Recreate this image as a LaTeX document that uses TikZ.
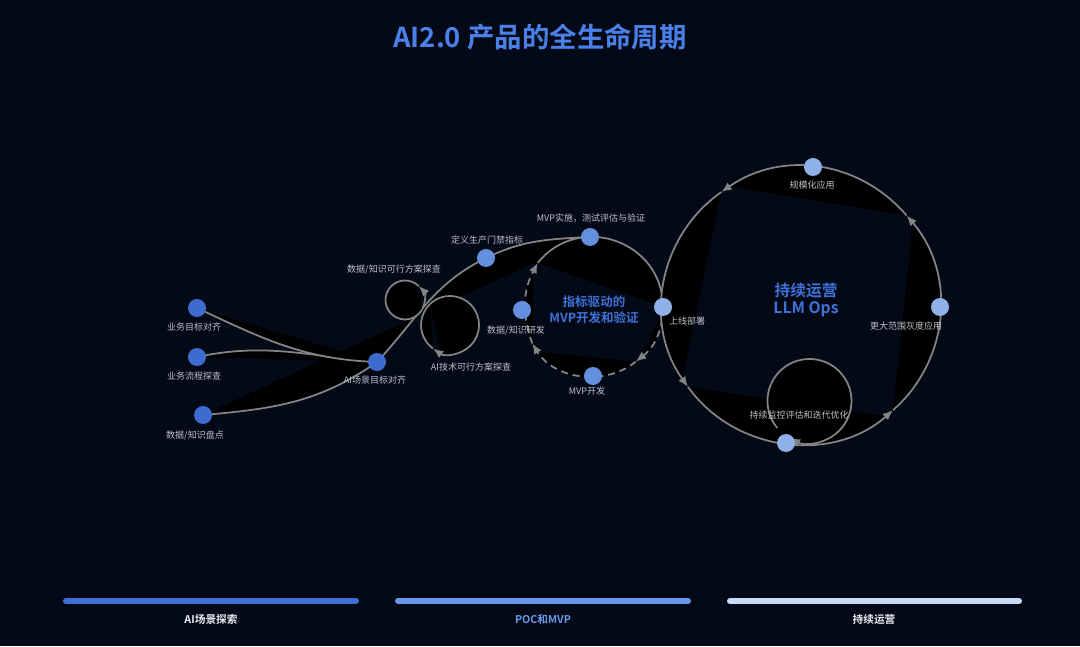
\documentclass[tikz,border=0pt]{standalone}
\usepackage{fontspec}
\setmainfont{Noto Sans CJK SC}[BoldFont={Noto Sans CJK SC Bold}]
\usetikzlibrary{arrows.meta}
\definecolor{bgnavy}{RGB}{3,9,23}
\definecolor{titleblue}{RGB}{74,128,232}
\definecolor{innerblue}{RGB}{62,114,216}
\definecolor{lblgray}{RGB}{188,192,200}
\definecolor{edgegray}{RGB}{132,132,132}
\definecolor{nodeA}{RGB}{61,108,206}
\definecolor{nodeB}{RGB}{100,143,222}
\definecolor{nodeC}{RGB}{143,176,232}
\definecolor{barA}{RGB}{62,111,214}
\definecolor{barB}{RGB}{104,152,232}
\definecolor{barC}{RGB}{200,218,245}
\definecolor{phasewhite}{RGB}{235,238,245}
\pgfdeclarelayer{front}
\pgfsetlayers{main,front}
\tikzset{
  dot/.style={circle,inner sep=0pt,minimum size=0.45cm},
  dotA/.style={dot,fill=nodeA},
  dotB/.style={dot,fill=nodeB},
  dotC/.style={dot,fill=nodeC},
  lbl/.style={text=lblgray,inner sep=0pt,font=\fontsize{6.4}{7.7}\selectfont},
  edge/.style={draw=edgegray,line width=1.25pt,fill=black},
  tip/.style={-{Latex[length=2.6mm,width=2.1mm]}},
  dashedge/.style={dash pattern=on 5pt off 3.5pt},
  bar/.style={line width=4.25pt,line cap=round},
  phase/.style={inner sep=0pt,font=\fontsize{7.6}{9}\selectfont\bfseries},
}
\begin{document}
\begin{tikzpicture}[x=0.025cm,y=0.025cm]
  \useasboundingbox (0,0) rectangle (1080,646);
  \fill[bgnavy] (0,0) rectangle (1080,646);

  \begin{pgfonlayer}{front}
    \path
      (197,338) node[dotA] (biz){}
      (197,289) node[dotA] (flow){}
      (203,231) node[dotA] (inv){}
      (377,284) node[dotA] (scene){}
      (486,388) node[dotB] (gate){}
      (590,409) node[dotB] (mvpimpl){}
      (522,336) node[dotB] (rnd){}
      (593,270) node[dotB] (mvpdev){}
      (663,339) node[dotC] (deploy){}
      (813,479) node[dotC] (scale){}
      (940,339) node[dotC] (grey){}
      (786,203) node[dotC] (monitor){};
    \path
      (194,319) node[lbl] (bizlbl){业务目标对齐}
      (194,270) node[lbl] (flowlbl){业务流程探查}
      (195,211) node[lbl] (invlbl){数据/知识盘点}
      (375,266) node[lbl] (scenelbl){AI场景目标对齐}
      (394,376) node[lbl] (dataloop){数据/知识可行方案探查}
      (471,279) node[lbl] (techloop){AI技术可行方案探查}
      (487,406) node[lbl] (gatelbl){定义生产门禁指标}
      (591,428) node[lbl] (mvpimpllbl){MVP实施，测试评估与验证}
      (516,315) node[lbl] (rndlbl){数据/知识研发}
      (587,255) node[lbl] (mvpdevlbl){MVP开发}
      (687,325) node[lbl] (deploylbl){上线部署}
      (812,461) node[lbl] (scalelbl){规模化应用}
      (906,320) node[lbl] (greylbl){更大范围灰度应用}
      (799,231) node[lbl] (monitorlbl){持续监控评估和迭代优化};
    \node[text=innerblue,align=center,inner sep=0pt,
      font=\fontsize{8.9}{11}\selectfont\bfseries] (mvptitle) at (594,336)
      {指标驱动的\\MVP开发和验证};
    \node[text=innerblue,align=center,inner sep=0pt,
      font=\fontsize{11.2}{11.5}\selectfont\bfseries] (opstitle) at (806,346)
      {持续运营\\LLM Ops};
  \end{pgfonlayer}

  % arrow points on the loops
  \coordinate (m1) at (537.8,383.2);
  \coordinate (m2) at (635.8,284.4);
  \coordinate (m3) at (532.3,302.5);
  \coordinate (b1) at (721.3,453.9);
  \coordinate (b2) at (688.0,259.1);
  \coordinate (b3) at (893.1,235.9);
  \coordinate (b4) at (906.6,430.5);
  \coordinate (s0) at (421.9,336.3);
  \coordinate (s1) at (418.8,359.8);
  \coordinate (c0) at (429.9,341.9);
  \coordinate (c1) at (433.0,297.5);
  \coordinate (l0) at (777.3,218.0);

  % exploration
  \draw[edge] (inv.center) to[out=5,in=215] (scene.center)
    to[out=47,in=206] (gate.center) to[out=26,in=183] (mvpimpl.center);
  \draw[edge] (flow.center) to[out=12,in=175] (scene.center);
  \draw[edge] (biz.center) to[out=-25,in=178] (scene.center);
  % mvp loop
  \draw[edge] (m1) to[bend left=70.4,looseness=1.27] (deploy.center);
  \draw[edge,dashedge,tip] (deploy.center) to[bend left=25.6] (m2);
  \draw[edge,dashedge,tip] (m2) to[bend left=48.7] (m3);
  \draw[edge,dashedge,tip] (m3) to[bend left=24] (m1);
  % self loops
  \draw[edge,tip] (s0) arc[start angle=-30,end angle=45,radius=0.4875cm];
  \draw[edge] (s1) arc[start angle=45,end angle=330,radius=0.4875cm];
  \draw[edge,tip] (c0) arc[start angle=134,end angle=-126,radius=0.725cm];
  \draw[edge] (c1) arc[start angle=-126,end angle=-226,radius=0.725cm];
  % operations loop
  \draw[edge,tip] (b4) to[bend right=42.2] (b1);
  \draw[edge,tip] (b1) to[bend right=45.3] (b2);
  \draw[edge,tip] (b2) to[bend right=48] (b3);
  \draw[edge,tip] (b3) to[bend right=44.6] (b4);
  \draw[edge,tip] (l0) arc[start angle=220,delta angle=-338,radius=1.05cm];

  \node[text=titleblue,inner sep=0pt,font=\fontsize{19.5}{22}\selectfont\bfseries]
    (title) at (540,609) {AI2.0 产品的全生命周期};

  % phases
  \draw[bar,barA] (66,45) -- (356,45);
  \draw[bar,barB] (398,45) -- (688,45);
  \draw[bar,barC] (730,45) -- (1019,45);
  \node[phase,text=phasewhite] (phase1) at (211,27) {AI场景探索};
  \node[phase,text=barB] (phase2) at (543,27) {POC和MVP};
  \node[phase,text=phasewhite] (phase3) at (874,27) {持续运营};
\end{tikzpicture}
\end{document}
